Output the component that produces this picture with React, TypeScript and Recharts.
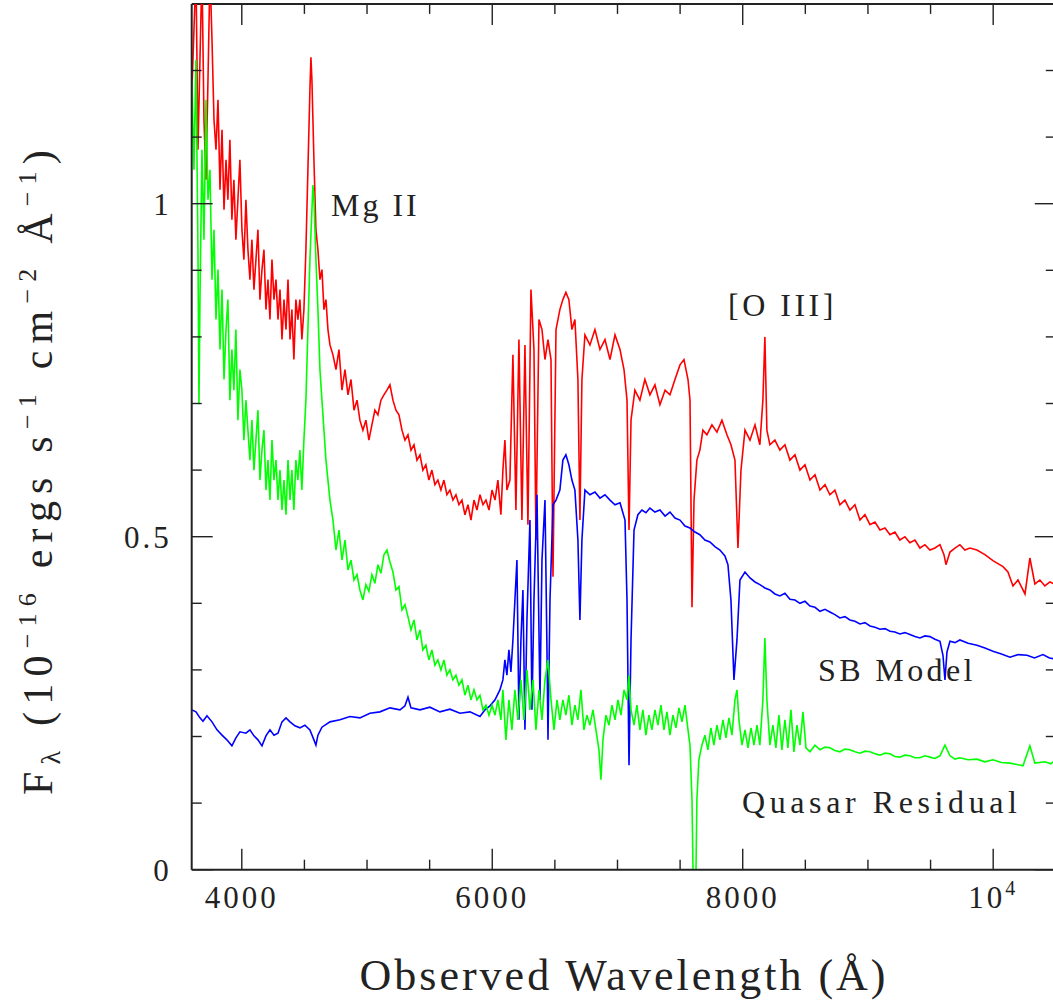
import React from "react";
import { LineChart, Line, XAxis, YAxis, ReferenceLine } from "recharts";

// observed spectrum (red), starburst model (blue), quasar residual (green)
// [wavelength in Angstrom, flux in 1e-16 erg/s/cm2/A]
const observed: [number, number][] = [
  [3602, 1.171], [3618, 1.261], [3634, 1.35], [3650, 1.081], [3666, 1.216], [3682, 1.35], [3698, 1.126],
  [3714, 1.036], [3730, 1.186], [3746, 1.35], [3762, 1.246], [3778, 1.126], [3794, 1.081], [3810, 1.156],
  [3826, 1.021], [3842, 1.111], [3858, 0.991], [3874, 1.066], [3889, 1.006], [3905, 1.096], [3921, 0.976],
  [3937, 1.036], [3953, 0.946], [3969, 1.006], [3985, 1.066], [4001, 0.961], [4017, 0.916], [4033, 1.006],
  [4049, 0.931], [4065, 0.886], [4081, 0.946], [4097, 0.871], [4113, 0.916], [4129, 0.961], [4145, 0.856],
  [4161, 0.901], [4177, 0.931], [4193, 0.841], [4209, 0.886], [4225, 0.826], [4241, 0.916], [4257, 0.856],
  [4273, 0.886], [4289, 0.826], [4305, 0.871], [4321, 0.796], [4337, 0.856], [4353, 0.811], [4369, 0.886],
  [4385, 0.796], [4400, 0.841], [4416, 0.766], [4432, 0.856], [4448, 0.826], [4464, 0.856], [4480, 0.796],
  [4496, 0.841], [4512, 0.931], [4528, 1.051], [4544, 1.171], [4552, 1.22], [4560, 1.186], [4576, 1.066],
  [4592, 0.961], [4608, 0.931], [4624, 0.886], [4640, 0.901], [4656, 0.841], [4672, 0.856], [4688, 0.811],
  [4704, 0.788], [4728, 0.773], [4752, 0.751], [4776, 0.781], [4800, 0.72], [4824, 0.751], [4848, 0.713],
  [4872, 0.736], [4896, 0.69], [4920, 0.705], [4943, 0.675], [4967, 0.66], [4991, 0.675], [5015, 0.645],
  [5039, 0.668], [5063, 0.69], [5087, 0.683], [5111, 0.705], [5135, 0.713], [5159, 0.72], [5183, 0.728],
  [5207, 0.705], [5231, 0.69], [5255, 0.683], [5279, 0.66], [5303, 0.645], [5327, 0.653], [5351, 0.63],
  [5375, 0.638], [5399, 0.615], [5423, 0.623], [5446, 0.6], [5470, 0.608], [5494, 0.585], [5518, 0.6],
  [5542, 0.578], [5566, 0.585], [5590, 0.57], [5614, 0.585], [5638, 0.563], [5662, 0.57], [5686, 0.555],
  [5710, 0.563], [5734, 0.548], [5758, 0.555], [5782, 0.533], [5806, 0.548], [5830, 0.525], [5854, 0.555],
  [5878, 0.54], [5902, 0.563], [5926, 0.548], [5950, 0.555], [5974, 0.54], [5998, 0.57], [6022, 0.555],
  [6045, 0.585], [6069, 0.533], [6085, 0.6], [6101, 0.645], [6117, 0.57], [6141, 0.585], [6165, 0.773],
  [6189, 0.54], [6213, 0.796], [6237, 0.525], [6261, 0.788], [6285, 0.518], [6309, 0.871], [6333, 0.781],
  [6349, 0.495], [6373, 0.826], [6397, 0.811], [6421, 0.766], [6445, 0.796], [6469, 0.766], [6485, 0.44],
  [6509, 0.811], [6540, 0.841], [6564, 0.856], [6588, 0.867], [6612, 0.856], [6636, 0.811], [6660, 0.826],
  [6684, 0.736], [6700, 0.525], [6716, 0.736], [6740, 0.803], [6780, 0.788], [6820, 0.811], [6860, 0.781],
  [6900, 0.796], [6940, 0.766], [6980, 0.803], [7020, 0.781], [7052, 0.751], [7076, 0.705], [7092, 0.51],
  [7108, 0.675], [7139, 0.72], [7179, 0.705], [7219, 0.736], [7259, 0.713], [7299, 0.728], [7339, 0.698],
  [7380, 0.72], [7419, 0.713], [7459, 0.736], [7499, 0.758], [7531, 0.766], [7563, 0.736], [7579, 0.705],
  [7595, 0.394], [7611, 0.555], [7634, 0.615], [7658, 0.63], [7682, 0.66], [7714, 0.653], [7754, 0.668],
  [7794, 0.657], [7834, 0.675], [7874, 0.653], [7906, 0.638], [7938, 0.615], [7962, 0.483], [7986, 0.6],
  [8018, 0.66], [8058, 0.645], [8098, 0.668], [8137, 0.638], [8161, 0.705], [8177, 0.8], [8193, 0.66],
  [8217, 0.638], [8257, 0.645], [8297, 0.63], [8337, 0.638], [8377, 0.615], [8417, 0.623], [8457, 0.6],
  [8497, 0.608], [8537, 0.585], [8577, 0.593], [8617, 0.57], [8657, 0.578], [8696, 0.563], [8736, 0.57],
  [8776, 0.548], [8816, 0.555], [8856, 0.54], [8896, 0.548], [8936, 0.525], [8976, 0.533], [9016, 0.518],
  [9056, 0.522], [9096, 0.51], [9136, 0.513], [9176, 0.503], [9215, 0.507], [9255, 0.495], [9295, 0.5],
  [9335, 0.491], [9375, 0.495], [9415, 0.483], [9455, 0.488], [9495, 0.48], [9535, 0.483], [9575, 0.488],
  [9607, 0.473], [9623, 0.458], [9655, 0.477], [9695, 0.483], [9734, 0.488], [9774, 0.48], [9814, 0.483],
  [9870, 0.48], [9934, 0.473], [9998, 0.464], [10078, 0.455], [10118, 0.447], [10158, 0.426], [10198, 0.435],
  [10254, 0.414], [10293, 0.468], [10333, 0.429], [10373, 0.435], [10413, 0.426], [10453, 0.432], [10500, 0.428],
];

const sbModel: [number, number][] = [
  [3602, 0.24], [3634, 0.237], [3666, 0.228], [3690, 0.223], [3722, 0.231], [3762, 0.222], [3802, 0.21],
  [3842, 0.202], [3881, 0.195], [3921, 0.186], [3953, 0.198], [3985, 0.207], [4033, 0.205], [4065, 0.21],
  [4097, 0.201], [4129, 0.195], [4161, 0.186], [4193, 0.201], [4225, 0.21], [4257, 0.202], [4289, 0.205],
  [4321, 0.222], [4353, 0.228], [4385, 0.222], [4424, 0.216], [4464, 0.213], [4504, 0.217], [4544, 0.21],
  [4576, 0.195], [4592, 0.187], [4608, 0.202], [4640, 0.214], [4704, 0.222], [4784, 0.225], [4864, 0.23],
  [4943, 0.228], [5023, 0.235], [5103, 0.237], [5183, 0.243], [5263, 0.24], [5303, 0.246], [5327, 0.259],
  [5351, 0.243], [5423, 0.24], [5502, 0.244], [5582, 0.237], [5662, 0.241], [5742, 0.235], [5822, 0.237],
  [5902, 0.23], [5942, 0.24], [5982, 0.246], [6022, 0.255], [6061, 0.27], [6085, 0.285], [6101, 0.315],
  [6117, 0.292], [6133, 0.33], [6149, 0.297], [6165, 0.345], [6181, 0.405], [6197, 0.465], [6213, 0.225],
  [6229, 0.345], [6245, 0.42], [6261, 0.21], [6277, 0.375], [6301, 0.525], [6317, 0.24], [6333, 0.405],
  [6357, 0.563], [6381, 0.255], [6397, 0.465], [6421, 0.555], [6437, 0.33], [6445, 0.195], [6461, 0.405],
  [6485, 0.548], [6509, 0.555], [6540, 0.57], [6564, 0.615], [6588, 0.623], [6612, 0.608], [6636, 0.585],
  [6660, 0.57], [6684, 0.495], [6700, 0.375], [6716, 0.495], [6740, 0.57], [6780, 0.563], [6820, 0.567],
  [6860, 0.558], [6900, 0.563], [6940, 0.555], [6980, 0.548], [7020, 0.551], [7060, 0.525], [7076, 0.405],
  [7092, 0.157], [7108, 0.345], [7132, 0.51], [7163, 0.533], [7195, 0.54], [7227, 0.536], [7259, 0.543],
  [7299, 0.537], [7339, 0.54], [7380, 0.531], [7419, 0.537], [7459, 0.528], [7499, 0.525], [7539, 0.516],
  [7579, 0.513], [7619, 0.507], [7658, 0.503], [7698, 0.495], [7738, 0.492], [7778, 0.485], [7818, 0.48],
  [7858, 0.471], [7882, 0.458], [7906, 0.405], [7930, 0.285], [7954, 0.345], [7978, 0.435], [8018, 0.447],
  [8058, 0.438], [8098, 0.432], [8137, 0.428], [8177, 0.423], [8217, 0.42], [8257, 0.414], [8297, 0.411],
  [8337, 0.415], [8377, 0.406], [8417, 0.405], [8457, 0.4], [8497, 0.403], [8537, 0.396], [8577, 0.394],
  [8617, 0.388], [8657, 0.391], [8696, 0.387], [8736, 0.383], [8776, 0.378], [8816, 0.38], [8856, 0.375],
  [8896, 0.373], [8936, 0.369], [8976, 0.371], [9016, 0.366], [9056, 0.364], [9096, 0.361], [9136, 0.362],
  [9176, 0.358], [9215, 0.357], [9255, 0.354], [9295, 0.356], [9335, 0.353], [9375, 0.35], [9415, 0.348],
  [9455, 0.351], [9495, 0.35], [9535, 0.346], [9575, 0.343], [9599, 0.322], [9615, 0.285], [9631, 0.327],
  [9655, 0.343], [9695, 0.341], [9734, 0.345], [9800, 0.34], [9870, 0.337], [9934, 0.333], [9998, 0.328],
  [10066, 0.324], [10134, 0.319], [10200, 0.323], [10270, 0.322], [10330, 0.318], [10397, 0.323],
  [10450, 0.318], [10500, 0.316],
];

const residual: [number, number][] = [
  [3602, 1.186], [3618, 1.051], [3634, 1.216], [3650, 0.931], [3658, 0.699], [3666, 0.856], [3682, 1.081],
  [3698, 0.946], [3714, 1.156], [3730, 1.006], [3746, 1.051], [3762, 0.886], [3778, 0.961], [3794, 0.826],
  [3810, 0.901], [3826, 0.781], [3842, 0.871], [3858, 0.736], [3874, 0.811], [3889, 0.856], [3905, 0.705],
  [3921, 0.781], [3937, 0.72], [3953, 0.811], [3969, 0.675], [3985, 0.751], [4001, 0.72], [4017, 0.645],
  [4033, 0.705], [4049, 0.66], [4065, 0.615], [4081, 0.675], [4097, 0.6], [4113, 0.645], [4129, 0.69],
  [4145, 0.585], [4161, 0.63], [4177, 0.66], [4193, 0.57], [4209, 0.615], [4225, 0.555], [4241, 0.645],
  [4257, 0.585], [4273, 0.615], [4289, 0.555], [4305, 0.6], [4321, 0.54], [4337, 0.585], [4353, 0.533],
  [4369, 0.615], [4385, 0.555], [4400, 0.6], [4416, 0.54], [4432, 0.615], [4448, 0.585], [4464, 0.63],
  [4480, 0.57], [4496, 0.645], [4512, 0.705], [4528, 0.811], [4544, 0.916], [4560, 0.991], [4568, 1.028],
  [4576, 1.006], [4592, 0.916], [4608, 0.841], [4624, 0.751], [4640, 0.705], [4656, 0.66], [4672, 0.615],
  [4688, 0.585], [4704, 0.555], [4728, 0.525], [4752, 0.48], [4776, 0.51], [4800, 0.465], [4824, 0.495],
  [4848, 0.45], [4872, 0.465], [4896, 0.435], [4920, 0.443], [4943, 0.42], [4967, 0.405], [4991, 0.428],
  [5015, 0.418], [5039, 0.443], [5063, 0.43], [5087, 0.458], [5111, 0.445], [5135, 0.473], [5159, 0.48],
  [5183, 0.462], [5207, 0.447], [5231, 0.42], [5255, 0.425], [5279, 0.39], [5303, 0.398], [5327, 0.38],
  [5351, 0.36], [5375, 0.375], [5399, 0.345], [5423, 0.36], [5446, 0.33], [5470, 0.337], [5494, 0.315],
  [5518, 0.33], [5542, 0.307], [5566, 0.315], [5590, 0.3], [5614, 0.315], [5638, 0.292], [5662, 0.3],
  [5686, 0.285], [5710, 0.292], [5734, 0.277], [5758, 0.285], [5782, 0.262], [5806, 0.277], [5830, 0.255],
  [5854, 0.27], [5878, 0.255], [5902, 0.262], [5926, 0.24], [5950, 0.247], [5974, 0.232], [5998, 0.247],
  [6022, 0.232], [6045, 0.255], [6069, 0.225], [6085, 0.27], [6109, 0.195], [6133, 0.255], [6157, 0.21],
  [6181, 0.27], [6205, 0.225], [6229, 0.285], [6253, 0.225], [6277, 0.3], [6301, 0.24], [6325, 0.285],
  [6349, 0.21], [6373, 0.27], [6397, 0.225], [6421, 0.285], [6445, 0.315], [6469, 0.255], [6493, 0.21],
  [6517, 0.255], [6540, 0.225], [6564, 0.255], [6588, 0.232], [6612, 0.262], [6636, 0.217], [6660, 0.247],
  [6684, 0.225], [6708, 0.27], [6732, 0.21], [6756, 0.232], [6780, 0.217], [6804, 0.24], [6828, 0.21],
  [6852, 0.18], [6868, 0.135], [6884, 0.195], [6908, 0.232], [6932, 0.217], [6956, 0.247], [6980, 0.225],
  [7004, 0.255], [7028, 0.232], [7052, 0.27], [7076, 0.255], [7092, 0.292], [7108, 0.24], [7132, 0.217],
  [7155, 0.247], [7179, 0.21], [7203, 0.24], [7227, 0.202], [7251, 0.232], [7275, 0.21], [7299, 0.24],
  [7323, 0.217], [7347, 0.247], [7371, 0.21], [7395, 0.237], [7419, 0.202], [7443, 0.232], [7467, 0.213],
  [7491, 0.243], [7515, 0.222], [7539, 0.247], [7563, 0.21], [7579, 0.187], [7595, 0.105], [7603, 0],
  [7627, 0], [7634, 0.105], [7650, 0.165], [7674, 0.187], [7698, 0.202], [7722, 0.18], [7746, 0.213],
  [7770, 0.187], [7794, 0.217], [7818, 0.195], [7842, 0.225], [7866, 0.198], [7890, 0.228], [7914, 0.202],
  [7938, 0.255], [7954, 0.27], [7970, 0.225], [7994, 0.187], [8018, 0.21], [8042, 0.183], [8066, 0.213],
  [8090, 0.187], [8114, 0.217], [8137, 0.187], [8161, 0.255], [8177, 0.348], [8193, 0.255], [8217, 0.187],
  [8241, 0.217], [8265, 0.183], [8289, 0.232], [8313, 0.18], [8337, 0.225], [8361, 0.183], [8385, 0.24],
  [8409, 0.177], [8433, 0.217], [8457, 0.187], [8481, 0.237], [8505, 0.183], [8537, 0.177], [8577, 0.187],
  [8617, 0.18], [8657, 0.184], [8696, 0.183], [8736, 0.179], [8776, 0.177], [8816, 0.181], [8856, 0.18],
  [8896, 0.177], [8936, 0.175], [8976, 0.178], [9016, 0.177], [9056, 0.174], [9096, 0.172], [9136, 0.175],
  [9176, 0.174], [9215, 0.17], [9255, 0.169], [9295, 0.172], [9335, 0.171], [9375, 0.168], [9415, 0.168],
  [9455, 0.171], [9495, 0.169], [9535, 0.167], [9575, 0.171], [9615, 0.187], [9655, 0.171], [9695, 0.166],
  [9734, 0.168], [9800, 0.165], [9870, 0.166], [9934, 0.162], [9998, 0.165], [10066, 0.161], [10134, 0.16],
  [10190, 0.158], [10238, 0.156], [10293, 0.186], [10333, 0.16], [10413, 0.162], [10460, 0.159],
  [10500, 0.165],
];

const xTicks = [4000, 4500, 5000, 5500, 6000, 6500, 7000, 7500, 8000, 8500, 9000, 9500, 10000];
const yTicks = [0, 0.1, 0.2, 0.3, 0.4, 0.5, 0.6, 0.7, 0.8, 0.9, 1, 1.1, 1.2];
const yLabels: Record<string, string> = { "0": "0", "0.5": "0.5", "1": "1" };

const toRows = (pts: [number, number][]) => pts.map(([w, f]) => ({ w, f }));

const WIDTH = 1060;
const HEIGHT = 1002;
const X_AXIS_H = 30;
const Y_AXIS_W = 60;
const MARGIN = { top: 3.9, right: 4.2, bottom: 132.3 - X_AXIS_H, left: 191.7 - Y_AXIS_W };
const PLOT_TOP = MARGIN.top;
const PLOT_RIGHT = WIDTH - MARGIN.right;
const INK = "#222";
const FONT = "'Liberation Serif', 'DejaVu Serif', serif";

function BottomTick(props: any) {
  const { x, y, payload } = props;
  const v = payload.value as number;
  const major = v % 2000 === 0;
  const len = major ? 21 : 10;
  return (
    <g>
      <line x1={x} x2={x} y1={y} y2={y - len} stroke={INK} strokeWidth={1.4} />
      <line x1={x} x2={x} y1={PLOT_TOP} y2={PLOT_TOP + len} stroke={INK} strokeWidth={1.4} />
      {major && (
        <text x={x} y={y + 38} textAnchor="middle" fontFamily={FONT} fontSize={31} letterSpacing={3} fill={INK}>
          {v === 10000 ? (
            <>
              10<tspan dy={-13} fontSize={20}>4</tspan>
            </>
          ) : (
            v
          )}
        </text>
      )}
    </g>
  );
}

function LeftTick(props: any) {
  const { x, y, payload } = props;
  const v = payload.value as number;
  const key = String(Math.round(v * 10) / 10);
  const label = yLabels[key];
  const len = label ? 21 : 10;
  return (
    <g>
      <line x1={x} x2={x + len} y1={y} y2={y} stroke={INK} strokeWidth={1.4} />
      <line x1={PLOT_RIGHT} x2={PLOT_RIGHT - len} y1={y} y2={y} stroke={INK} strokeWidth={1.4} />
      {label && (
        <text x={x - 20} y={y + 11} textAnchor="end" fontFamily={FONT} fontSize={31} letterSpacing={3} fill={INK}>
          {label}
        </text>
      )}
    </g>
  );
}

export default function App() {
  const textStyle = { fontFamily: FONT, fill: INK };
  return (
    <div style={{ position: "absolute", left: 0, top: 0, width: 1053, height: 1002, overflow: "hidden", background: "#fff" }}>
      <LineChart width={WIDTH} height={HEIGHT} margin={MARGIN}>
        <XAxis
          dataKey="w"
          type="number"
          domain={[3600, 10500]}
          allowDataOverflow
          ticks={xTicks}
          interval={0}
          height={X_AXIS_H}
          tickSize={0}
          tickMargin={0}
          tickLine={false}
          tick={BottomTick}
          axisLine={{ stroke: INK, strokeWidth: 2 }}
        />
        <YAxis
          type="number"
          domain={[0, 1.3]}
          allowDataOverflow
          ticks={yTicks}
          interval={0}
          width={Y_AXIS_W}
          tickSize={0}
          tickMargin={0}
          tickLine={false}
          tick={LeftTick}
          axisLine={{ stroke: INK, strokeWidth: 2 }}
        />
        <ReferenceLine y={1.3} stroke={INK} strokeWidth={2} />
        <ReferenceLine x={10500} stroke={INK} strokeWidth={2} />
        <Line data={toRows(observed)} dataKey="f" stroke="#ff0000" strokeWidth={1.6} dot={false} isAnimationActive={false} />
        <Line data={toRows(sbModel)} dataKey="f" stroke="#0000ff" strokeWidth={1.6} dot={false} isAnimationActive={false} />
        <Line data={toRows(residual)} dataKey="f" stroke="#00ff00" strokeWidth={1.6} dot={false} isAnimationActive={false} />
      </LineChart>
      <svg width={1053} height={1002} style={{ position: "absolute", left: 0, top: 0, pointerEvents: "none" }}>
        <text x={331} y={216} fontSize={32} letterSpacing={3} {...textStyle}>Mg II</text>
        <text x={728} y={316} fontSize={32} letterSpacing={3.5} {...textStyle}>[O III]</text>
        <text x={818} y={681} fontSize={32} letterSpacing={3.4} {...textStyle}>SB Model</text>
        <text x={742} y={813} fontSize={32} letterSpacing={4.6} {...textStyle}>Quasar Residual</text>
        <text x={624} y={990} fontSize={44} letterSpacing={3} textAnchor="middle" {...textStyle}>Observed Wavelength (Å)</text>
        <text transform="translate(52 469) rotate(-90)" fontSize={42} letterSpacing={7.2} textAnchor="middle" {...textStyle}>
          F<tspan fontSize={28} dy={8}>λ</tspan>
          <tspan dy={-8}> (10</tspan>
          <tspan fontSize={26} dy={-16}>−16</tspan>
          <tspan dy={16}> ergs s</tspan>
          <tspan fontSize={26} dy={-16}>−1</tspan>
          <tspan dy={16}> cm</tspan>
          <tspan fontSize={26} dy={-16}>−2</tspan>
          <tspan dy={16}> Å</tspan>
          <tspan fontSize={26} dy={-16}>−1</tspan>
          <tspan dy={16}>)</tspan>
        </text>
      </svg>
    </div>
  );
}
